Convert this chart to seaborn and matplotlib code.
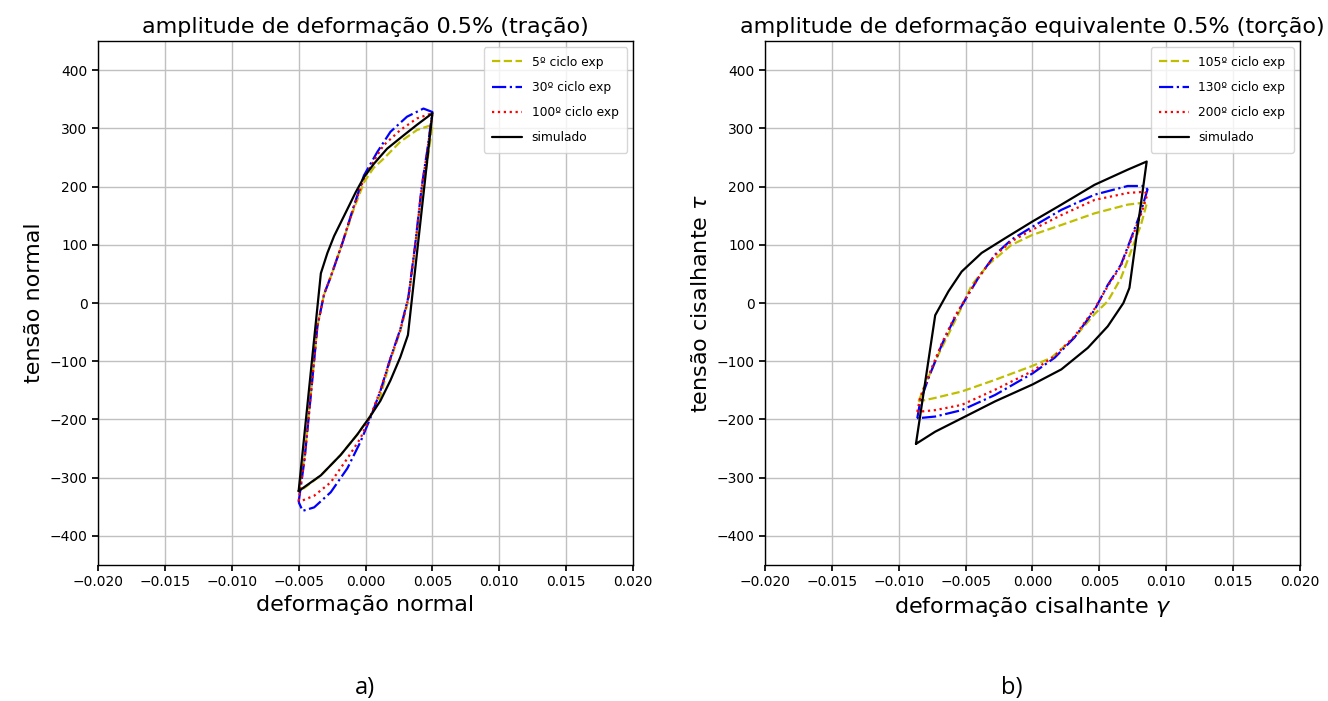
import numpy as np
import pandas as pd
import matplotlib
matplotlib.use("Agg")
import matplotlib.pyplot as plt
import seaborn as sns

# --- a) tracao: loops (x = strain, y = stress) ---
a_5_x = [-0.0050, -0.00455, -0.00406, -0.0036, -0.0031, -0.0026, -0.00173, -0.00087, -0.0001, 0.0006, 0.00136,
         0.0026, 0.00384, 0.00458, 0.0050,
         0.0046, 0.0042, 0.00371, 0.0032, 0.0026, 0.00186, 0.00111, 0.00037, -0.00062, -0.00186, -0.00334, -0.0050]
a_5_y = [-325, -262, -150, -40, 15, 45, 103, 162, 208, 232, 248,
         277, 297, 303, 306,
         240, 190, 95, 5, -48, -98, -160, -194, -226, -261, -296, -325]

a_30_x = [-0.0050, -0.00455, -0.00406, -0.0036, -0.0031, -0.0026, -0.00173, -0.00087, -0.00012, 0.00087, 0.00186,
          0.0031, 0.00433, 0.0050,
          0.0046, 0.0042, 0.00371, 0.0032, 0.0026, 0.00186, 0.00111, 0.00037, -0.00037, -0.00136, -0.0026, -0.00384,
          -0.0047, -0.0050]
a_30_y = [-342, -267, -151, -40, 15, 45, 103, 167, 219, 259, 294,
          320, 334, 328,
          260, 200, 100, 10, -45, -95, -151, -197, -238, -284, -325, -351,
          -357, -342]

a_100_x = [-0.0050, -0.00455, -0.00406, -0.0036, -0.0031, -0.0026, -0.00173, -0.00087, -0.0001, 0.0009, 0.00136,
           0.0026, 0.00384, 0.0050,
           0.0046, 0.0042, 0.00371, 0.0032, 0.0026, 0.00186, 0.00111, 0.00037, -0.00037, -0.00136, -0.0026, -0.00384,
           -0.0048, -0.0050]
a_100_y = [-340, -265, -150, -40, 15, 45, 103, 165, 215, 255, 271,
           297, 317, 326,
           258, 198, 98, 8, -46, -95, -150, -194, -232, -267, -308, -331,
           -340, -340]

a_sim_x = [-0.0050, -0.00334, -0.00285, -0.00235, -0.00149, -0.00074, -0.00012, 0.00062, 0.00161, 0.00285, 0.00384, 0.0050,
           0.00317, 0.0026, 0.00186, 0.00111, 0.00037, -0.00062, -0.00186, -0.00334, -0.0050]
a_sim_y = [-323, 51, 86, 115, 155, 190, 216, 239, 265, 288, 306, 326,
           -55, -93, -133, -168, -194, -226, -261, -296, -323]

# --- b) torcao ---
b_105_x = [-0.00851, -0.00801, -0.00702, -0.00603, -0.00529, -0.00454, -0.0033, -0.00156, 0.0, 0.00216, 0.00464, 0.00712, 0.00857,
           0.00811, 0.00737, 0.00662, 0.00563, 0.00464, 0.00315, 0.00141, 0.0, -0.0028, -0.00529, -0.00727, -0.00851]
b_105_y = [-169, -140, -88, -42, -7, 31, 66, 100, 117, 134, 154, 169, 173,
           134, 89, 43, 3, -19, -59, -94, -108, -132, -152, -163, -169]

b_130_x = [-0.00861, -0.00839, -0.00777, -0.00677, -0.00578, -0.00504, -0.00405, -0.0028, -0.00156, 0.0, 0.00216, 0.00464,
           0.00712, 0.00836, 0.0086,
           0.00811, 0.00737, 0.00662, 0.00563, 0.00464, 0.00315, 0.00166, 0.0, -0.0028, -0.00529, -0.00727, -0.00861]
b_130_y = [-198, -169, -129, -71, -24, 5, 43, 83, 109, 131, 160, 186,
           201, 201, 195,
           157, 111, 66, 31, -12, -59, -94, -121, -158, -184, -195, -198]

b_200_x = [-0.00861, -0.00839, -0.00777, -0.00677, -0.00578, -0.00504, -0.00405, -0.0028, -0.00156, 0.0, 0.00216, 0.00464,
           0.00712, 0.00836, 0.0086,
           0.00811, 0.00737, 0.00662, 0.00563, 0.00464, 0.00315, 0.00166, 0.0, -0.0028, -0.00529, -0.00727, -0.00861]
b_200_y = [-187, -162, -125, -69, -22, 6, 43, 82, 106, 126, 151, 177,
           189, 191, 187,
           152, 108, 64, 29, -10, -57, -91, -117, -149, -175, -184, -187]

b_sim_x = [-0.00871, -0.00727, -0.00628, -0.00529, -0.0038, -0.00206, 0.0, 0.00216, 0.00464, 0.00712, 0.00854,
           0.00725, 0.0068, 0.00563, 0.00414, 0.00216, 0.0, -0.0028, -0.00529, -0.00727, -0.00871]
b_sim_y = [-242, -21, 20, 54, 86, 111, 140, 169, 203, 229, 243,
           26, 0, -40, -77, -114, -140, -169, -198, -221, -242]

xticks = [-0.020, -0.015, -0.010, -0.005, 0.000, 0.005, 0.010, 0.015, 0.020]
yticks = [-400, -300, -200, -100, 0, 100, 200, 300, 400]

sns.set_theme(style="ticks")
plt.rcParams['font.family'] = ['DejaVu Sans']
plt.rcParams.update({"text.color": "black", "axes.labelcolor": "black",
                     "xtick.color": "black", "ytick.color": "black"})

fig = plt.figure(figsize=(13.28, 7.01), dpi=100)
ax1 = fig.add_axes([0.0738, 0.194, 0.4029, 0.7475])
ax2 = fig.add_axes([0.5760, 0.194, 0.4029, 0.7475])

panels = [
    (ax1, [(a_5_x, a_5_y, "5º ciclo exp"), (a_30_x, a_30_y, "30º ciclo exp"),
           (a_100_x, a_100_y, "100º ciclo exp"), (a_sim_x, a_sim_y, "simulado")],
     "amplitude de deformação 0.5% (tração)", "deformação normal", "tensão normal"),
    (ax2, [(b_105_x, b_105_y, "105º ciclo exp"), (b_130_x, b_130_y, "130º ciclo exp"),
           (b_200_x, b_200_y, "200º ciclo exp"), (b_sim_x, b_sim_y, "simulado")],
     "amplitude de deformação equivalente 0.5% (torção)",
     r"deformação cisalhante $\gamma$", r"tensão cisalhante $\tau$"),
]
styles = [("#bfbf00", "--"), ("#0000ff", "-."), ("#ff0000", ":"), ("black", "-")]

for ax, series, title, xlab, ylab in panels:
    for (xs, ys, lab), (c, ls) in zip(series, styles):
        df = pd.DataFrame({"x": xs, "y": ys})
        sns.lineplot(data=df, x="x", y="y", sort=False, estimator=None, ax=ax,
                     color=c, linestyle=ls, linewidth=1.6, label=lab)
    ax.set_xlim(-0.020, 0.020)
    ax.set_ylim(-450, 450)
    ax.set_xticks(xticks)
    ax.set_xticklabels([f"{t:.3f}".replace("-", "\u2212") for t in xticks])
    ax.set_yticks(yticks)
    ax.set_yticklabels([f"{t}".replace("-", "\u2212") for t in yticks])
    ax.tick_params(labelsize=10, length=4, color="black")
    ax.grid(True, color="#c0c0c0", linewidth=1)
    for s in ax.spines.values():
        s.set_color("black")
        s.set_linewidth(1)
    ax.set_title(title, fontsize=16)
    ax.set_xlabel(xlab, fontsize=16)
    ax.set_ylabel(ylab, fontsize=16)
    ax.legend(loc="upper right", fontsize=8.8, frameon=True, handlelength=2.4,
              handletextpad=0.8, borderpad=0.7, labelspacing=1.0)

fig.text(0.2748, 0.0185, "a)", fontsize=17, family="Open Sans", ha="center", va="center")
fig.text(0.7620, 0.0185, "b)", fontsize=17, family="Open Sans", ha="center", va="center")

fig.savefig("out.png", dpi=100)
